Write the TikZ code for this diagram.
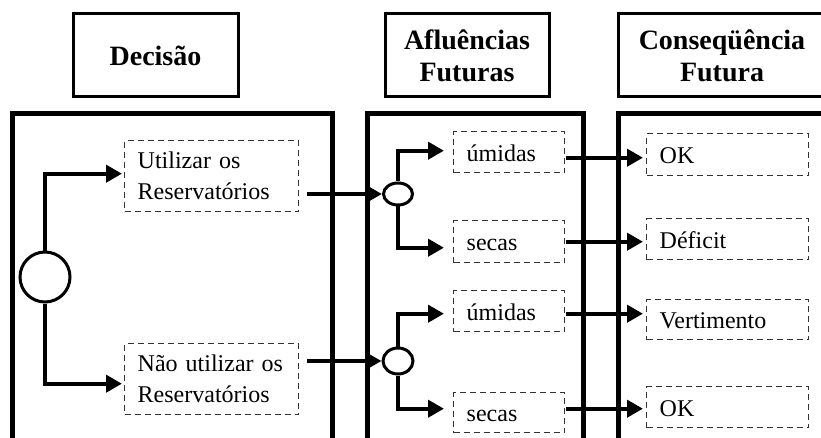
\documentclass[tikz,border=0pt]{standalone}
\usepackage{fontspec}
\setmainfont{Liberation Serif}
\usetikzlibrary{arrows.meta,shapes.geometric,calc}
\begin{document}
\begin{tikzpicture}[x=1pt,y=-1pt,
  hdr/.style={draw,line width=3pt,rectangle,minimum height=83pt,inner sep=0pt,align=center,
    font=\fontsize{28}{32}\selectfont\bfseries},
  panel/.style={line width=5pt},
  arr/.style={line width=4pt,-{Triangle[length=16pt,width=17pt]}},
  dbox/.style={draw=black!80,dashed,dash pattern=on 6pt off 4pt,line width=1.4pt,rectangle,
    anchor=north west,inner ysep=0pt,inner xsep=13pt,align=left,
    font=\fontsize{24}{31}\selectfont},
  dL/.style={dbox,text width=148pt,minimum width=174pt},
  dM/.style={dbox,text width=85pt,minimum width=111pt,text height=20pt,text depth=2pt},
  dR/.style={dbox,text width=136pt,minimum width=162pt,text height=20pt,text depth=2pt}]
\useasboundingbox (0,0) rectangle (821,438);
\fill[white] (0,0) rectangle (821,438);

% header boxes
\node[hdr,minimum width=165pt] (hd) at (155.5,55.5) {Decisão};
\node[hdr,minimum width=164pt] (ha) at (467,55.5) {Afluências\\Futuras};
\node[hdr,minimum width=208pt] (hc) at (722,55.5) {Conseqüência\\Futura};

% panels
\draw[panel] (12,460) -- (12,114) -- (332,114) -- (332,460);
\draw[panel] (367,460) -- (367,114) -- (583,114) -- (583,460);
\draw[panel] (618,460) -- (618,114) -- (840,114) -- (840,460);

% decision node
\node[circle,draw,line width=3pt,minimum size=50pt,inner sep=0pt] (dc) at (45,277) {};

% decision boxes
\node[dL,minimum height=71pt] (u) at (124,140) {Utilizar os\\Reservatórios};
\node[dL,minimum height=71pt] (n) at (124,343) {Não utilizar os\\Reservatórios};

% chance nodes
\node[ellipse,draw,line width=3pt,minimum width=29pt,minimum height=22pt,inner sep=0pt] (e1) at (398,194) {};
\node[ellipse,draw,line width=3pt,minimum width=30pt,minimum height=26pt,inner sep=0pt] (e2) at (398,361) {};

% inflow boxes
\node[dM,minimum height=41pt] (h1) at (453,131) {úmidas};
\node[dM,minimum height=42pt] (s1) at (453,220) {secas};
\node[dM,minimum height=41pt] (h2) at (453,290) {úmidas};
\node[dM,minimum height=40pt] (s2) at (453,392) {secas};

% consequence boxes
\node[dR,minimum height=42pt] (o1) at (646,133) {OK};
\node[dR,minimum height=41pt] (d1) at (646,218) {Déficit};
\node[dR,minimum height=40pt] (v1) at (646,299) {Vertimento};
\node[dR,minimum height=41pt] (o2) at (646,386) {OK};

% decision connectors
\draw[arr] (dc.north) |- ([yshift=2.5pt,xshift=-2pt]u.west);
\draw[arr] (dc.south) |- ([yshift=-4.5pt,xshift=-2pt]n.west);

% to chance nodes
\draw[arr] ($(u.east |- e1.west)+(8pt,0)$) -- (e1.west);
\draw[arr] ($(n.east |- e2.west)+(8pt,0)$) -- (e2.west);

% chance branches
\draw[arr] (e1.north) |- ([xshift=-9pt,yshift=1.5pt]h1.west);
\draw[arr] (e1.south) |- ([xshift=-9pt,yshift=-6pt]s1.west);
\draw[arr] (e2.north) |- ([xshift=-9pt,yshift=-2.5pt]h2.west);
\draw[arr] (e2.south) |- ([xshift=-9pt,yshift=4pt]s2.west);

% to consequences
\draw[arr] ([yshift=-5.5pt,xshift=1pt]h1.east) -- ([yshift=-3pt,xshift=-3pt]o1.west);
\draw[arr] ([xshift=1pt]s1.east) -- ([yshift=-2.5pt,xshift=-3pt]d1.west);
\draw[arr] ([yshift=-2.5pt,xshift=1pt]h2.east) -- ([yshift=6pt,xshift=-3pt]v1.west);
\draw[arr] ([yshift=4pt,xshift=1pt]s2.east) -- ([yshift=-1.5pt,xshift=-3pt]o2.west);
\end{tikzpicture}
\end{document}
